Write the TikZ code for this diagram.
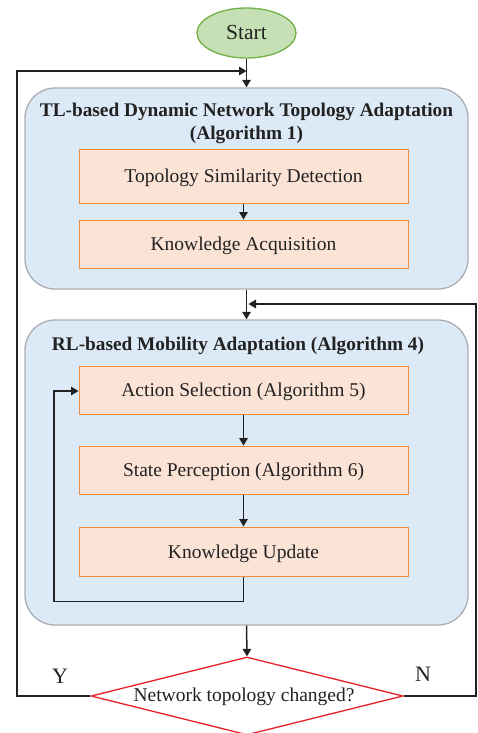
\documentclass[tikz,border=0pt]{standalone}
\usepackage{fontspec}
\setmainfont{Liberation Serif}
\usetikzlibrary{shapes.geometric,arrows.meta}
\definecolor{bluefill}{HTML}{DCE9F6}
\definecolor{blueedge}{HTML}{ABAFB3}
\definecolor{orfill}{HTML}{FBE3D6}
\definecolor{oredge}{HTML}{F08A3C}
\definecolor{grfill}{HTML}{C5E0B4}
\definecolor{gredge}{HTML}{72B048}
\definecolor{redge}{HTML}{E8202A}
\definecolor{lin}{HTML}{222222}
\tikzset{
  group/.style={draw=blueedge, line width=1.3pt, fill=bluefill, rounded corners=30pt},
  stepbox/.style={draw=oredge, line width=1pt, fill=orfill, minimum width=329pt, minimum height=48pt, inner sep=0pt, font=\fontsize{19.5}{22}\selectfont, text=lin, text height=13pt, text depth=0pt},
  conn/.style={draw=lin, line width=1.5pt, -{Triangle[width=8.5pt,length=7.5pt]}},
  title/.style={font=\fontsize{19.3}{23}\selectfont\bfseries, align=center, text=lin},
  lab/.style={font=\fontsize{22}{24}\selectfont, inner sep=0pt, text=lin},
}
\begin{document}
\begin{tikzpicture}[x=1pt,y=-1pt]
\useasboundingbox (0,0) rectangle (477,733);
% start
\node[ellipse, draw=gredge, line width=1.3pt, fill=grfill, minimum width=99pt, minimum height=50pt, inner sep=0pt, font=\fontsize{21.5}{24}\selectfont, text=lin, text height=14pt, text depth=0pt] (start) at (246.5,33) {Start};
% group 1
\path[group] (25,88) rectangle (468,289);
\node[inner sep=0pt] (g1top) at (246.5,88) {};
\node[inner sep=0pt] (g1bot) at (246.5,289) {};
\node[title] (t1) at (246.5,123.5) {TL-based Dynamic Network Topology Adaptation\\(Algorithm 1)};
\node[stepbox, minimum height=54pt] (tsd) at (243.5,176) {Topology Similarity Detection};
\node[stepbox] (ka) at (243.5,244) {Knowledge Acquisition};
% group 2
\path[group] (25,320) rectangle (468,625);
\node[inner sep=0pt] (g2top) at (246.5,320) {};
\node[inner sep=0pt] (g2bot) at (246.5,625) {};
\node[title] (t2) at (238,346) {RL-based Mobility Adaptation (Algorithm 4)};
\node[stepbox] (as) at (243.5,390) {Action Selection (Algorithm 5)};
\node[stepbox] (sp) at (243.5,470) {State Perception (Algorithm 6)};
\node[stepbox, minimum height=49pt] (ku) at (243.5,551.5) {Knowledge Update};
% decision
\node[diamond, draw=redge, line width=1.3pt, fill=white, minimum width=312pt, minimum height=78pt, inner sep=0pt, aspect=4] (dec) at (247,696) {};
\node[font=\fontsize{19.5}{22}\selectfont, inner sep=0pt, text=lin, text height=13pt, text depth=0pt] (dectxt) at (244,695) {Network topology changed?};
\node[lab] (ylab) at (60,676) {Y};
\node[lab] (nlab) at (423,674) {N};
% coordinates
\coordinate (ymerge) at (246.5,71);
\coordinate (nmerge) at (248.5,304);
% connectors
\draw[conn] (start.south) -- (g1top);
\draw[conn] (tsd.south) -- (ka.north);
\draw[conn] (g1bot) -- (g2top);
\draw[conn] (as.south) -- (sp.north);
\draw[conn] (sp.south) -- (ku.north);
\draw[conn] (ku.south) -- ++(0,25) -| (54,391) -- (as.west |- 0,391);
\draw[conn] (g2bot) -- (dec.north);
\draw[conn] (dec.west) -| (17,71) -- (ymerge);
\draw[conn] (dec.east) -| (476,304) -- (nmerge);
\end{tikzpicture}
\end{document}
